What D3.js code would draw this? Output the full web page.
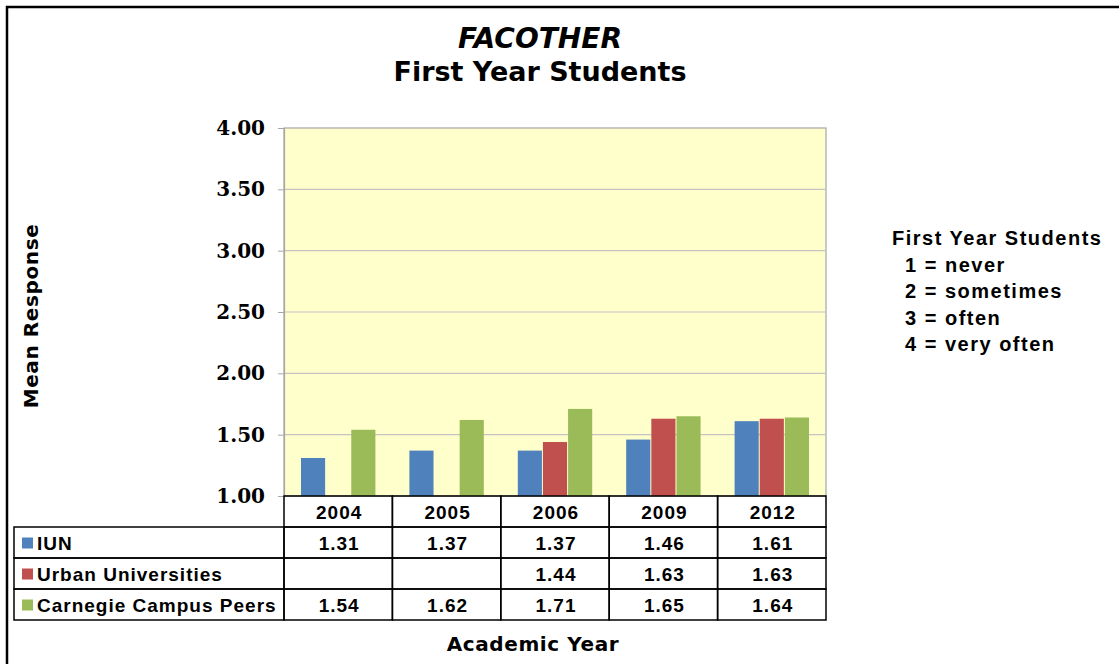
<!DOCTYPE html>
<html>
<head>
<meta charset="utf-8">
<script src="https://cdn.jsdelivr.net/npm/d3@7"></script>
<style>
  body { margin: 0; background: #fff; }
  svg { display: block; }
</style>
</head>
<body>
<svg id="chart" width="1119" height="664"></svg>
<script>
// chart data
var years = ["2004", "2005", "2006", "2009", "2012"];
var seriesNames = ["IUN", "Urban Universities", "Carnegie Campus Peers"];
var iun = [1.31, 1.37, 1.37, 1.46, 1.61];
var urban = [null, null, 1.44, 1.63, 1.63];
var carnegie = [1.54, 1.62, 1.71, 1.65, 1.64];
var yTicks = [1.00, 1.50, 2.00, 2.50, 3.00, 3.50, 4.00];
var scaleNotes = ["1 = never", "2 = sometimes", "3 = often", "4 = very often"];

var series = [iun, urban, carnegie];
var colors = ["#4f81bd", "#c0504d", "#9bbb59"];

var svg = d3.select("#chart");
var plot = {left: 284, right: 826, top: 128, bottom: 496};
var rowH = 31;

var x = d3.scaleBand().domain(years).range([plot.left, plot.right]);
var xs = d3.scaleBand().domain(d3.range(3)).range([17, x.bandwidth() - 17]).paddingInner(0.04);
var y = d3.scaleLinear().domain([1, 4]).range([plot.bottom, plot.top]);

// outer frame
svg.append("rect")
    .attr("x", 7).attr("y", 7).attr("width", 1130).attr("height", 680)
    .attr("fill", "none").attr("stroke", "#000").attr("stroke-width", 2.5);

// titles
svg.append("text")
    .attr("x", 540).attr("y", 48).attr("text-anchor", "middle")
    .style("font", "italic bold 28px 'DejaVu Sans', Verdana, sans-serif")
    .text("FACOTHER");
svg.append("text")
    .attr("x", 540).attr("y", 81).attr("text-anchor", "middle")
    .style("font", "bold 27px 'DejaVu Sans', Verdana, sans-serif")
    .text("First Year Students");

// plot background
svg.append("rect")
    .attr("x", plot.left).attr("y", plot.top)
    .attr("width", plot.right - plot.left).attr("height", plot.bottom - plot.top)
    .attr("fill", "#ffffcc").attr("stroke", "#a6a6a6").attr("stroke-width", 1.2);

// gridlines
svg.append("g").selectAll("line")
  .data(yTicks.slice(1, -1))
  .enter().append("line")
    .attr("x1", plot.left).attr("x2", plot.right)
    .attr("y1", function(d) { return y(d); }).attr("y2", function(d) { return y(d); })
    .attr("stroke", "#c4c4c4").attr("stroke-width", 1.2);

// y axis
var yAxis = svg.append("g")
    .attr("transform", "translate(" + plot.left + ",0)")
    .call(d3.axisLeft(y).tickValues(yTicks).tickFormat(d3.format(".2f")).tickSize(6).tickPadding(13));
yAxis.select(".domain").attr("stroke", "#a6a6a6").attr("stroke-width", 1.2);
yAxis.selectAll(".tick line").attr("stroke", "#a6a6a6");
yAxis.selectAll("text")
    .attr("fill", "#000")
    .style("font", "bold 20px 'DejaVu Serif', serif");

// bars
series.forEach(function(vals, si) {
  svg.append("g").selectAll("rect")
    .data(years.map(function(yr, i) { return {year: yr, v: vals[i]}; }).filter(function(d) { return d.v != null; }))
    .enter().append("rect")
      .attr("x", function(d) { return x(d.year) + xs(si); })
      .attr("width", xs.bandwidth())
      .attr("y", function(d) { return y(d.v); })
      .attr("height", function(d) { return y(1) - y(d.v); })
      .attr("fill", colors[si]);
});

// data table
var table = svg.append("g");
var tableLeft = 14;
var cellFont = "bold 19px 'Liberation Sans', Arial, sans-serif";

// header row (years)
years.forEach(function(yr) {
  table.append("rect")
    .attr("x", x(yr)).attr("y", plot.bottom)
    .attr("width", x.bandwidth()).attr("height", rowH)
    .attr("fill", "none").attr("stroke", "#000").attr("stroke-width", 1.5);
  table.append("text")
    .attr("x", x(yr) + x.bandwidth() / 2 + 1).attr("y", plot.bottom + rowH / 2 + 7)
    .attr("text-anchor", "middle").style("font", cellFont).style("letter-spacing", "1px")
    .text(yr);
});

series.forEach(function(vals, si) {
  var ry = plot.bottom + rowH * (si + 1);
  table.append("rect")
    .attr("x", tableLeft).attr("y", ry)
    .attr("width", plot.left - tableLeft).attr("height", rowH)
    .attr("fill", "none").attr("stroke", "#000").attr("stroke-width", 1.5);
  table.append("rect")
    .attr("x", tableLeft + 8).attr("y", ry + rowH / 2 - 5)
    .attr("width", 11).attr("height", 11)
    .attr("fill", colors[si]);
  table.append("text")
    .attr("x", tableLeft + 23).attr("y", ry + rowH / 2 + 7)
    .style("font", cellFont).style("letter-spacing", "1px")
    .text(seriesNames[si]);
  years.forEach(function(yr, i) {
    table.append("rect")
      .attr("x", x(yr)).attr("y", ry)
      .attr("width", x.bandwidth()).attr("height", rowH)
      .attr("fill", "none").attr("stroke", "#000").attr("stroke-width", 1.5);
    if (vals[i] != null) {
      table.append("text")
        .attr("x", x(yr) + x.bandwidth() / 2 + 1).attr("y", ry + rowH / 2 + 7)
        .attr("text-anchor", "middle").style("font", cellFont).style("letter-spacing", "1px")
        .text(d3.format(".2f")(vals[i]));
    }
  });
});

// axis titles
svg.append("text")
    .attr("transform", "translate(38,316) rotate(-90)")
    .attr("text-anchor", "middle")
    .style("font", "bold 20px 'DejaVu Sans', Verdana, sans-serif").style("letter-spacing", "0.6px")
    .text("Mean Response");
svg.append("text")
    .attr("x", 533).attr("y", 651).attr("text-anchor", "middle")
    .style("font", "bold 20px 'DejaVu Sans', Verdana, sans-serif").style("letter-spacing", "0.6px")
    .text("Academic Year");

// scale notes on the right
var notes = svg.append("g")
    .style("font", "bold 20px 'Liberation Sans', Arial, sans-serif")
    .style("letter-spacing", "1.5px").style("white-space", "pre");
notes.append("text").attr("x", 892).attr("y", 245).text("First Year  Students");
scaleNotes.forEach(function(t, i) {
  notes.append("text").attr("x", 905).attr("y", 272 + i * 26.3).text(t);
});
</script>
</body>
</html>
